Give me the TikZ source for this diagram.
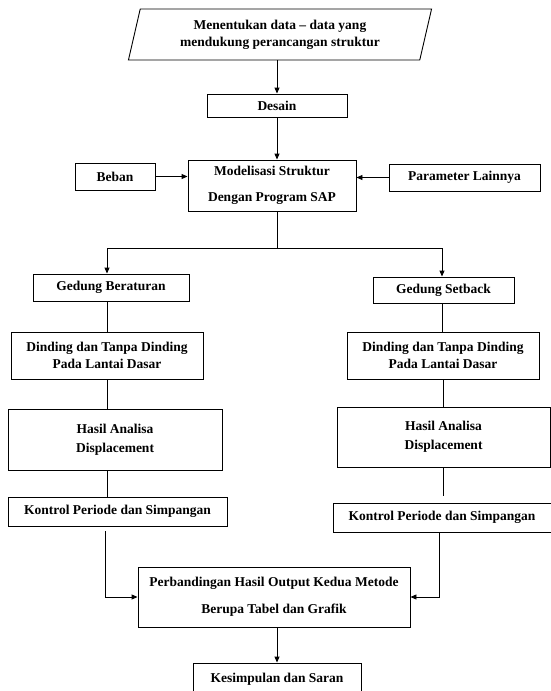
\documentclass[tikz,border=0pt]{standalone}
\usepackage{fontspec}
\setmainfont{Liberation Serif}
\usetikzlibrary{arrows.meta,shapes.geometric}
\tikzset{
  box/.style={draw, line width=0.9pt, rectangle, inner sep=0pt, align=center,
    font=\bfseries\fontsize{13.5}{17}\selectfont},
  ln/.style={line width=0.9pt},
  arr/.style={line width=0.9pt, -{Triangle[length=6pt,width=5pt]}},
}
\begin{document}
\begin{tikzpicture}[x=1pt,y=-1pt]
\useasboundingbox (0,0) rectangle (551,691);
% nodes
\node[box, trapezium, trapezium left angle=74, trapezium right angle=106,
      trapezium stretches=true, minimum width=304pt, minimum height=51pt]
      (data) at (280,34.5) {Menentukan data -- data yang\\mendukung perancangan struktur};
\node[box, minimum width=140pt, minimum height=23pt] (desain) at (277,105.5) {Desain};
\node[box, minimum width=168pt, minimum height=51pt,
      font=\bfseries\fontsize{13.5}{26}\selectfont] (model) at (272,185.5)
      {Modelisasi Struktur\\Dengan Program SAP};
\node[box, minimum width=80pt, minimum height=27pt] (beban) at (115,176.5) {Beban};
\node[box, minimum width=151pt, minimum height=27pt] (param) at (464.5,177.5) {Parameter Lainnya};
\node[box, minimum width=156pt, minimum height=27pt] (gb) at (111,287.5) {Gedung Beraturan};
\node[box, minimum width=141pt, minimum height=26pt] (gs) at (443.5,290) {Gedung Setback};
\node[box, minimum width=192pt, minimum height=47pt] (dl) at (107,355.5)
      {Dinding dan Tanpa Dinding\\Pada Lantai Dasar};
\node[box, minimum width=192pt, minimum height=47pt] (dr) at (443,355.5)
      {Dinding dan Tanpa Dinding\\Pada Lantai Dasar};
\node[box, minimum width=214pt, minimum height=61pt,
      font=\bfseries\fontsize{13.5}{19}\selectfont] (hl) at (115,439.5)
      {Hasil Analisa\\Displacement};
\node[box, minimum width=213pt, minimum height=60pt,
      font=\bfseries\fontsize{13.5}{19}\selectfont] (hr) at (443.5,437)
      {Hasil Analisa\\Displacement};
\node[box, minimum width=219pt, minimum height=29pt] (kl) at (117.5,511.5)
      {Kontrol Periode dan Simpangan};
\node[box, minimum width=218pt, minimum height=29pt] (kr) at (442,517.5)
      {Kontrol Periode dan Simpangan};
\node[box, minimum width=272pt, minimum height=60pt,
      font=\bfseries\fontsize{13.5}{27}\selectfont] (perb) at (274,597)
      {Perbandingan Hasil Output Kedua Metode\\Berupa Tabel dan Grafik};
\node[box, minimum width=168pt, minimum height=32pt] (kes) at (277,679)
      {Kesimpulan dan Saran};
% connectors
\coordinate (jl) at (107,248);
\coordinate (jr) at (442,248);
\draw[arr] (data.south -| desain.north) -- (desain.north);
\draw[arr] (desain.south) -- (desain.south |- model.north);
\draw[arr] (beban.east) -- (beban.east -| model.west);
\draw[arr] (param.west) -- (param.west -| model.east);
\draw[ln] (model.south -| desain.south) -- (desain.south |- jl);
\draw[arr] (desain.south |- jl) -- (jl) -- (jl |- gb.north);
\draw[arr] (desain.south |- jr) -- (jr) -- (jr |- gs.north);
\draw[ln] (jl |- gb.south) -- (jl |- dl.north);
\draw[ln] (dl.south) -- (dl.south |- hl.north);
\draw[ln] (dl.south |- hl.south) -- (dl.south |- kl.north);
\draw[ln] (jr |- gs.south) -- (jr |- dr.north);
\draw[ln] (dr.south) -- (dr.south |- hr.north);
\draw[ln, shorten >=7pt] (hr.south) -- (hr.south |- kr.north);
\draw[arr, shorten <=5pt] ([xshift=-12.5pt]kl.south) |- (perb.west);
\draw[arr] ([xshift=-3pt]kr.south) |- (perb.east);
\draw[arr] (perb.south -| kes.north) -- (kes.north);
\end{tikzpicture}
\end{document}
